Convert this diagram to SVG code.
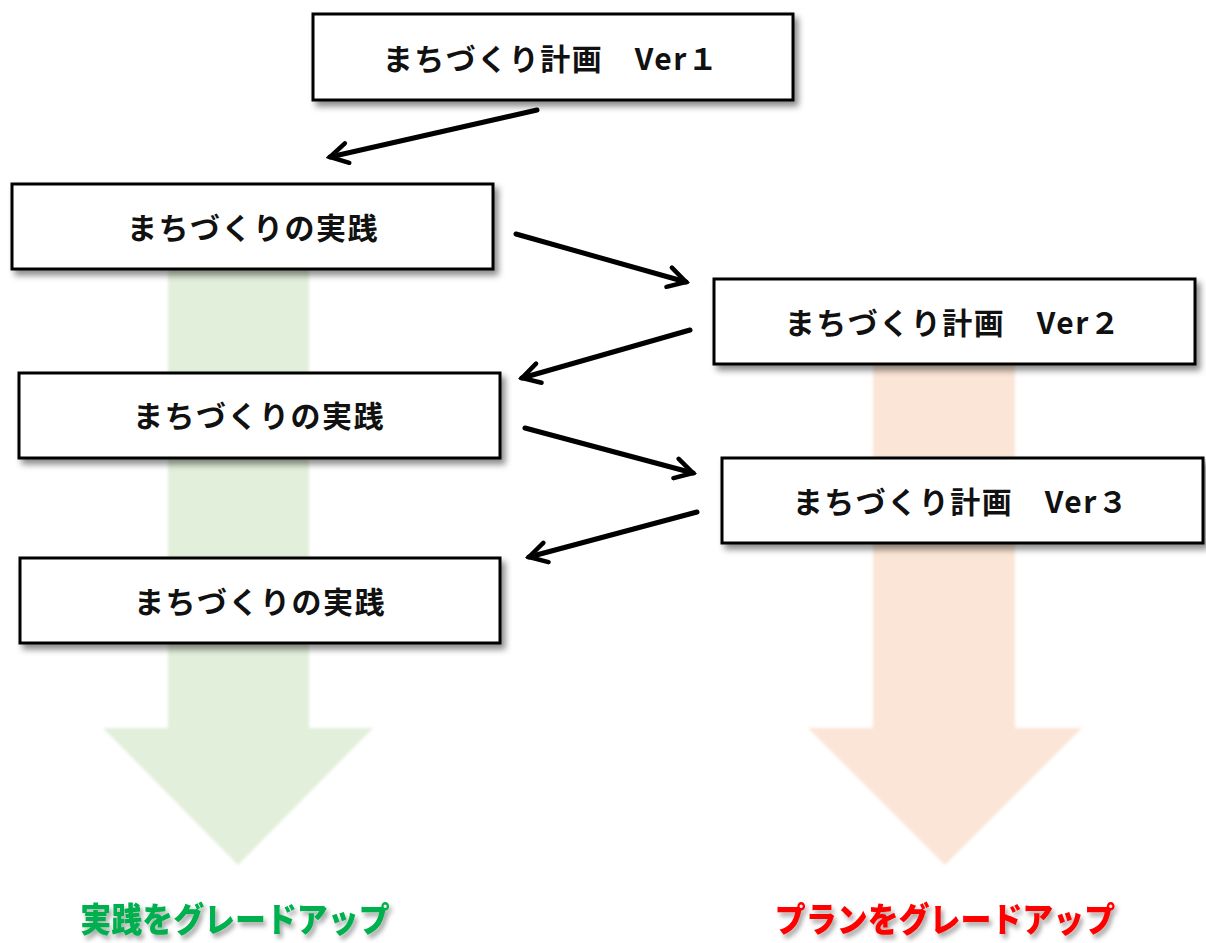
<svg xmlns="http://www.w3.org/2000/svg" width="1206" height="943" viewBox="0 0 1206 943">
<defs>
<filter id="sh" x="-10%" y="-20%" width="130%" height="150%">
<feDropShadow dx="4" dy="5" stdDeviation="3" flood-color="#000" flood-opacity="0.45"/>
</filter>
<filter id="tsh" x="-10%" y="-30%" width="130%" height="180%">
<feDropShadow dx="3" dy="4" stdDeviation="2.5" flood-color="#000" flood-opacity="0.35"/>
</filter>
<filter id="soft"><feGaussianBlur stdDeviation="1.5"/></filter>
<marker id="ah" viewBox="0 0 20 20" refX="17" refY="10" markerWidth="5" markerHeight="5" markerUnits="strokeWidth" orient="auto">
<path d="M3,2 L17,10 L3,18" fill="none" stroke="#000" stroke-width="3.6" stroke-linecap="round" stroke-linejoin="miter"/>
</marker>
</defs>
<style>
.box{fill:#fff;stroke:#000;stroke-width:3;filter:url(#sh)}
.lbl{font-family:"Noto Sans CJK JP","Noto Sans",sans-serif;font-weight:bold;font-size:30px;letter-spacing:1.5px;fill:#111;text-anchor:middle;dominant-baseline:central}
.cap{font-family:"Noto Sans CJK JP",sans-serif;font-weight:900;font-size:34px;text-anchor:middle;filter:url(#tsh)}
.con{fill:none;stroke:#000;stroke-width:5;stroke-linecap:round;marker-end:url(#ah)}
</style>
<rect width="1206" height="943" fill="#fff"/>
<g id="bg-arrows" filter="url(#soft)">
<path d="M168,265 L309,265 L309,728 L373,728 L238,865 L103,728 L168,728 Z" fill="#e2efda"/>
<path d="M873,360 L1015,360 L1015,728 L1082,728 L945,865 L808,728 L873,728 Z" fill="#fbe5d6"/>
</g>
<g id="n1"><rect class="box" x="313" y="14" width="480" height="86"/><text class="lbl" x="551" y="57">まちづくり計画　Ver１</text></g>
<g id="n2"><rect class="box" x="12" y="184" width="481" height="85"/><text class="lbl" x="253" y="226">まちづくりの実践</text></g>
<g id="n3"><rect class="box" x="714" y="279" width="481" height="85"/><text class="lbl" x="953" y="321">まちづくり計画　Ver２</text></g>
<g id="n4"><rect class="box" x="19" y="373" width="481" height="85"/><text class="lbl" x="259" y="414">まちづくりの実践</text></g>
<g id="n5"><rect class="box" x="722" y="458" width="481" height="85"/><text class="lbl" x="961" y="500">まちづくり計画　Ver３</text></g>
<g id="n6"><rect class="box" x="20" y="558" width="480" height="85"/><text class="lbl" x="260" y="600">まちづくりの実践</text></g>
<g id="connectors">
<line class="con" x1="537" y1="110" x2="330" y2="157"/>
<line class="con" x1="516" y1="234" x2="686" y2="282"/>
<line class="con" x1="690" y1="330" x2="522" y2="378"/>
<line class="con" x1="525" y1="428" x2="693" y2="473"/>
<line class="con" x1="697" y1="512" x2="529" y2="557"/>
</g>
<g id="captions">
<text class="cap" transform="translate(235,932) scale(0.91,1)" fill="#00b050">実践をグレードアップ</text>
<text class="cap" transform="translate(945,932) scale(0.91,1)" fill="#ff0000">プランをグレードアップ</text>
</g>
</svg>
